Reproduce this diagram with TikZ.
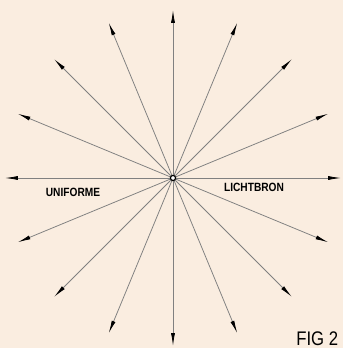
\documentclass[tikz,border=0pt]{standalone}
\usepackage{fontspec}
\setmainfont{Liberation Sans}
\newfontfamily\labfont[FakeStretch=0.85]{Liberation Sans}
\usetikzlibrary{arrows.meta}
\definecolor{paper}{HTML}{FAEDE0}
\tikzset{
  ray/.style={-{Latex[length=3.2mm, width=1mm, color=black]}, line width=0.55pt, draw=black!50},
  src/.style={circle, draw=black, line width=0.9pt, fill=white, inner sep=0pt, minimum size=1.3mm},
  lab/.style={font=\labfont\bfseries\fontsize{8.5}{10}\selectfont, inner sep=0pt},
  figlab/.style={font=\labfont\fontsize{14}{16}\selectfont, inner sep=0pt, anchor=base west},
}

\begin{document}
\begin{tikzpicture}[x=0.025cm, y=0.025cm]
    % page
    \fill[paper] (-173,-170) rectangle (170,178);
    \useasboundingbox (-173,-170) rectangle (170,178);
    % light source
    \node[src] (src) at (0,0) {};
    % rays
    \foreach \i in {0,...,15}{
      \coordinate (r\i) at (\i*22.5:168);
      \draw[ray] (src) -- (r\i);
    }
    % labels
    \node[lab] (uni) at (-100,-14) {UNIFORME};
    \node[lab] (licht) at (81,-9) {LICHTBRON};
    \node[figlab] (fig) at (123,-167) {FIG 2};
\end{tikzpicture}
\end{document}
